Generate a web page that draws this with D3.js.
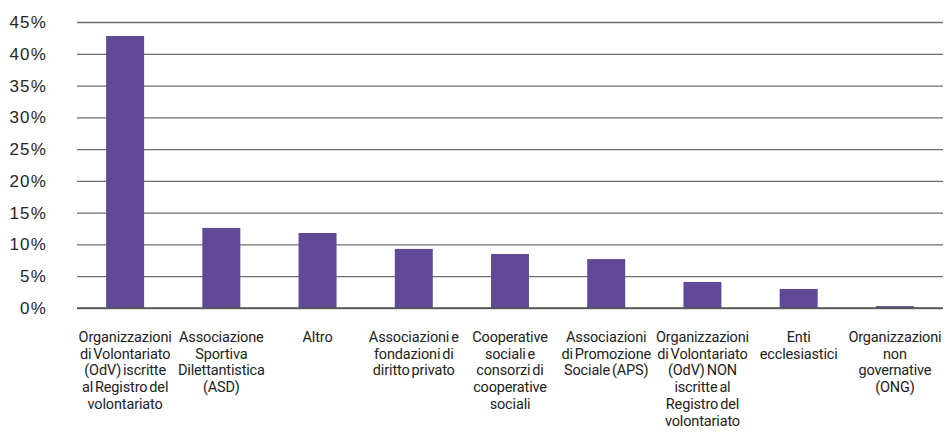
<!DOCTYPE html>
<html>
<head>
<meta charset="utf-8">
<script src="https://cdn.jsdelivr.net/npm/d3@7"></script>
<style>
  html, body { margin: 0; padding: 0; background: #fff; }
  svg { display: block; }
</style>
</head>
<body>
<svg id="chart" width="945" height="433"></svg>
<script>
const categories = [
  "Organizzazioni\ndi Volontariato\n(OdV) iscritte\nal Registro del\nvolontariato",
  "Associazione\nSportiva\nDilettantistica\n(ASD)",
  "Altro",
  "Associazioni e\nfondazioni di\ndiritto privato",
  "Cooperative\nsociali e\nconsorzi di\ncooperative\nsociali",
  "Associazioni\ndi Promozione\nSociale (APS)",
  "Organizzazioni\ndi Volontariato\n(OdV) NON\niscritte al\nRegistro del\nvolontariato",
  "Enti\necclesiastici",
  "Organizzazioni\nnon\ngovernative\n(ONG)"
];
const values = [42.8, 12.6, 11.8, 9.3, 8.5, 7.7, 4.1, 3.0, 0.3];
const yTicks = [0, 5, 10, 15, 20, 25, 30, 35, 40, 45];

(function () {
const svg = d3.select("#chart");
const mLeft = 77, mRight = 943, mTop = 22, mBottom = 308;

const x = d3.scaleBand().domain(categories).range([mLeft, mRight]).paddingInner(0.605).paddingOuter(0.3025);
const y = d3.scaleLinear().domain([0, 45]).range([mBottom, mTop]);

// gridlines + y labels
const yAxis = d3.axisLeft(y).tickValues(yTicks).tickSize(-(mRight - mLeft)).tickFormat(d => d + "%").tickPadding(30);
const gy = svg.append("g").attr("transform", `translate(${mLeft},0)`).call(yAxis);
gy.select(".domain").remove();
gy.selectAll(".tick line").attr("stroke", "#6e6e6e").attr("stroke-width", 1.3);
gy.selectAll(".tick text")
  .attr("fill", "#262626")
  .style("font-family", "'Liberation Sans', Arial, sans-serif")
  .style("font-size", "17px")
  .style("letter-spacing", "1.2px");

// bars
svg.append("g").selectAll("rect").data(values).join("rect")
  .attr("x", (d, i) => x(categories[i]))
  .attr("width", x.bandwidth())
  .attr("y", d => y(d))
  .attr("height", d => y(0) - y(d))
  .attr("fill", "#604a97");

// baseline on top
svg.append("line").attr("x1", mLeft).attr("x2", mRight).attr("y1", y(0)).attr("y2", y(0))
  .attr("stroke", "#555").attr("stroke-width", 1.3);

// x labels
const xAxis = d3.axisBottom(x).tickSize(0).tickPadding(0).tickFormat("");
const gx = svg.append("g").attr("transform", `translate(0,${mBottom})`).call(xAxis);
gx.select(".domain").remove();
gx.selectAll(".tick").each(function(d) {
  const lines = d.split("\n");
  const t = d3.select(this).append("text")
    .attr("text-anchor", "middle")
    .attr("fill", "#222")
    .style("font-family", "Roboto, sans-serif")
    .style("font-size", "14.5px")
    .style("word-spacing", "-1.5px")
    .style("letter-spacing", "-0.15px");
  lines.forEach((ln, i) => {
    t.append("tspan").attr("x", 0).attr("y", 34 + i * 16.7).text(ln);
  });
});
})();
</script>
</body>
</html>
